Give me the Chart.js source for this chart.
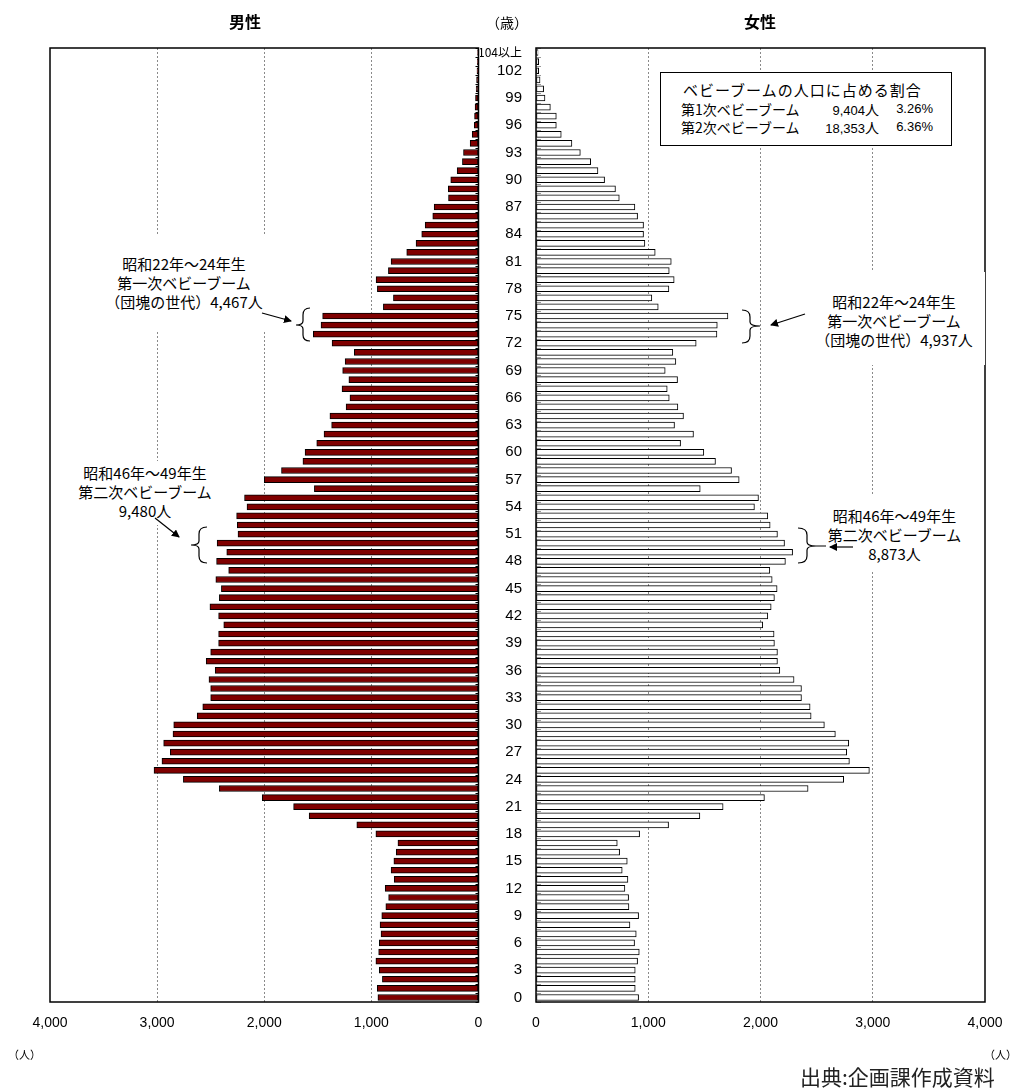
<!DOCTYPE html>
<html lang="ja">
<head>
<meta charset="utf-8">
<title>男女別・年齢別人口</title>
<script src="https://cdn.jsdelivr.net/npm/chart.js@4.4.1/dist/chart.umd.min.js"></script>
<style>
  html, body { margin: 0; padding: 0; background: #fff; }
  #wrap { position: relative; width: 1018px; height: 1091px; overflow: hidden;
          font-family: "Noto Sans CJK JP", "Noto Sans", sans-serif; color: #000; }
  canvas { position: absolute; top: 0; }
  #maleChart { left: 0; }
  #femaleChart { left: 480px; }
  .t { position: absolute; white-space: nowrap; }
  .title { font-size: 16px; font-weight: bold; top: 9px; transform: translateX(-50%); }
  .note { position: absolute; background: #fff; text-align: center; font-size: 15px;
          line-height: 19px; white-space: nowrap; box-sizing: border-box; }
  #legendBox { position: absolute; left: 660px; top: 72px; width: 292px; height: 74px;
               border: 1.5px solid #000; background: #fff; box-sizing: border-box; font-size: 14px; }
  #legendBox .t { line-height: 16px; }
  #legendBox .n { font-family: 'Liberation Sans', Arial, sans-serif; font-size: 13px; }
  svg { position: absolute; left: 0; top: 0; }
</style>
</head>
<body>
<div id="wrap">
  <canvas id="maleChart" width="490" height="1091"></canvas>
  <canvas id="femaleChart" width="538" height="1091"></canvas>

  <div class="t title" style="left:245px;">男性</div>
  <div class="t title" style="left:760px;">女性</div>
  <div class="t" style="left:486px; top:12px; font-size:14px;">（歳）</div>

  <div class="note" style="left:100px; top:236px; width:168px; height:94px; padding-top:18px;">
    昭和22年～24年生<br>第一次ベビーブーム<br>（団塊の世代）4,467人</div>
  <div class="note" style="left:70px; top:461px; width:150px; height:64px; padding-top:2px;">
    昭和46年～49年生<br>第二次ベビーブーム<br>9,480人</div>
  <div class="note" style="left:803px; top:272px; width:182px; height:93px; padding-top:20px;">
    昭和22年～24年生<br>第一次ベビーブーム<br>（団塊の世代）4,937人</div>
  <div class="note" style="left:822px; top:495px; width:145px; height:77px; padding-top:11px;">
    昭和46年～49年生<br>第二次ベビーブーム<br>8,873人</div>

  <div id="legendBox">
    <div class="t" style="left:22px; top:9px; font-size:15px; letter-spacing:1px;">ベビーブームの人口に占める割合</div>
    <div class="t" style="left:20px; top:28px;">第1次ベビーブーム</div>
    <div class="t n" style="right:72px; top:28px;">9,404<span style="font-family:'Noto Sans CJK JP';font-size:14px;">人</span></div>
    <div class="t n" style="right:18px; top:28px;">3.26%</div>
    <div class="t" style="left:20px; top:46px;">第2次ベビーブーム</div>
    <div class="t n" style="right:72px; top:46px;">18,353<span style="font-family:'Noto Sans CJK JP';font-size:14px;">人</span></div>
    <div class="t n" style="right:18px; top:46px;">6.36%</div>
  </div>

  <svg width="1018" height="1091" viewBox="0 0 1018 1091">
    <defs>
      <marker id="ah" markerWidth="8" markerHeight="8" refX="7" refY="4" orient="auto" markerUnits="userSpaceOnUse">
        <path d="M0,0 L8,4 L0,8 z" fill="#000"/>
      </marker>
    </defs>
    <g fill="none" stroke="#000" stroke-width="1.2">
      <!-- left brace, 1st boom -->
      <path d="M310,308 Q303,308 303,315 L303,321 Q303,325 296,325 Q303,325 303,329 L303,335 Q303,341 310,341"/>
      <line x1="262" y1="313" x2="291" y2="321" marker-end="url(#ah)"/>
      <!-- left brace, 2nd boom -->
      <path d="M207,527 Q199,527 199,534 L199,541 Q199,545 191,545 Q199,545 199,549 L199,556 Q199,563 207,563"/>
      <line x1="155" y1="518" x2="179" y2="537" marker-end="url(#ah)"/>
      <!-- right brace, 1st boom -->
      <path d="M742,310 Q750,310 750,317 L750,322 Q750,326 760,326 Q750,326 750,330 L750,336 Q750,343 742,343"/>
      <line x1="805" y1="314" x2="771" y2="325" marker-end="url(#ah)"/>
      <!-- right brace, 2nd boom -->
      <path d="M798,528 Q807,528 807,535 L807,542 Q807,546 816,546 L826,546 M816,546 Q807,546 807,550 L807,556 Q807,563 798,563"/>
      <line x1="853" y1="547" x2="830" y2="547" marker-end="url(#ah)"/>
    </g>
  </svg>

  <div class="t" style="left:8px; top:1046px; font-size:11px;">（人）</div>
  <div class="t" style="left:984px; top:1046px; font-size:11px;">（人）</div>
  <div class="t" style="left:800px; top:1061px; font-size:21px; color:#222;">出典:企画課作成資料</div>
</div>

<script>
// age categories 0..104 (104 = "104以上")
const AGES = Array.from({ length: 105 }, (_, i) => i);
const AGE_TICKS = [0, 3, 6, 9, 12, 15, 18, 21, 24, 27, 30, 33, 36, 39, 42, 45, 48, 51,
  54, 57, 60, 63, 66, 69, 72, 75, 78, 81, 84, 87, 90, 93, 96, 99, 102, 104];
const TOP_AGE_LABEL = "104以上";
const X_TICKS = [0, 1000, 2000, 3000, 4000];

// 男性 (index = age)
const MALE = [
  939, 945, 897, 926, 958, 932, 926, 910, 919, 903,       // 0-9
  865, 839, 871, 787, 816, 790, 768, 752, 958, 1136,      // 10-19
  1581, 1726, 2019, 2419, 2755, 3029, 2955, 2877, 2939, 2852, // 20-29
  2845, 2626, 2574, 2500, 2500, 2516, 2458, 2542, 2500, 2426, // 30-39
  2426, 2378, 2426, 2507, 2419, 2400, 2452, 2332, 2445, 2350, // 40-49
  2440, 2245, 2252, 2258, 2161, 2184, 1532, 2000, 1839, 1639, // 50-59
  1619, 1510, 1442, 1371, 1387, 1236, 1200, 1274, 1210, 1268, // 60-69
  1245, 1159, 1367, 1542, 1470, 1455, 888, 794, 944, 956,     // 70-79
  841, 816, 670, 583, 530, 498, 427, 414, 280, 282,           // 80-89
  259, 199, 150, 140, 78, 59, 40, 37, 32, 28,                 // 90-99
  22, 18, 14, 10, 8                                           // 100-104
];

// 女性 (index = age)
const FEMALE = [
  914, 884, 884, 884, 905, 920, 878, 893, 837, 914,       // 0-9
  828, 825, 792, 819, 768, 813, 745, 724, 923, 1181,      // 10-19
  1460, 1667, 2035, 2424, 2741, 2970, 2792, 2768, 2786, 2667, // 20-29
  2569, 2451, 2442, 2365, 2365, 2299, 2172, 2151, 2151, 2124, // 30-39
  2121, 2020, 2065, 2095, 2124, 2148, 2104, 2083, 2222, 2286, // 40-49
  2214, 2151, 2086, 2065, 1946, 1982, 1463, 1810, 1742, 1599, // 50-59
  1495, 1288, 1403, 1234, 1314, 1264, 1187, 1169, 1261, 1151, // 60-69
  1246, 1219, 1427, 1612, 1615, 1710, 1089, 1032, 1184, 1231, // 70-79
  1187, 1205, 1062, 970, 958, 958, 905, 881, 742, 708,        // 80-89
  611, 552, 487, 395, 320, 225, 181, 181, 128, 80,            // 90-99
  68, 36, 24, 24, 18                                          // 100-104
];

const NUM_FONT = "'Liberation Sans', Arial, 'Noto Sans CJK JP', sans-serif";

// black frame round the plot + little tick marks on the 0 axis
const framePlugin = {
  id: "frame",
  afterDatasetsDraw(chart, args, opts) {
    const { ctx, chartArea: a } = chart;
    const ys = chart.scales.y;
    ctx.save();
    ctx.strokeStyle = opts.tickColor;
    ctx.lineWidth = 1;
    const ax = opts.axisSide === "right" ? a.right : a.left;
    const dir = opts.axisSide === "right" ? -1 : 1;
    ctx.beginPath();
    for (let i = 0; i <= AGES.length; i++) {
      const py = Math.round(ys.getPixelForValue(i - 0.5)) + 0.5;
      ctx.moveTo(ax, py);
      ctx.lineTo(ax + dir * opts.tickLen, py);
    }
    ctx.stroke();
    ctx.strokeStyle = "#000";
    ctx.lineWidth = 1.5;
    ctx.strokeRect(a.left, a.top, a.right - a.left, a.bottom - a.top);
    ctx.restore();
  }
};

function makeOptions(isMale) {
  return {
    indexAxis: "y",
    responsive: false,
    animation: false,
    events: [],
    layout: {
      padding: isMale
        ? { left: 50, right: 11.5, top: 48, bottom: 0 }
        : { left: 0, right: 33, top: 48, bottom: 0 }
    },
    plugins: {
      legend: { display: false },
      tooltip: { enabled: false },
      frame: isMale
        ? { axisSide: "right", tickColor: "#000", tickLen: 3 }
        : { axisSide: "left", tickColor: "#999", tickLen: 5 }
    },
    scales: {
      x: {
        min: 0,
        max: 4000,
        reverse: isMale,
        afterBuildTicks: s => { s.ticks = X_TICKS.map(v => ({ value: v })); },
        afterFit: s => { s.height = 89; },
        grid: {
          drawTicks: false,
          lineWidth: 1,
          color: c => (c.tick && (c.tick.value === 0 || c.tick.value === 4000)) ? "rgba(0,0,0,0)" : "#8a8a8a"
        },
        border: { display: false, dash: [2, 2] },
        ticks: {
          padding: 13,
          color: "#000",
          maxRotation: 0,
          font: { family: NUM_FONT, size: 14 },
          callback: v => Number(v).toLocaleString("en-US")
        }
      },
      y: {
        type: "category",
        reverse: true,
        position: isMale ? "right" : "left",
        display: !isMale,
        afterFit: s => { s.width = isMale ? 0 : 56; },
        grid: { display: false, drawTicks: false },
        border: { display: false },
        ticks: {
          autoSkip: false,
          padding: 14,
          color: "#000",
          font: c => (c.index === 104
            ? { family: "'Noto Sans CJK JP', sans-serif", size: 12 }
            : { family: NUM_FONT, size: 15 }),
          callback: (v, i) => {
            if (i === 104) return TOP_AGE_LABEL;
            return AGE_TICKS.includes(AGES[i]) ? String(AGES[i]) : "";
          }
        }
      }
    }
  };
}

new Chart(document.getElementById("maleChart"), {
  type: "bar",
  data: {
    labels: AGES,
    datasets: [{
      label: "男性",
      data: MALE,
      backgroundColor: "#7f0000",
      borderColor: "#000",
      borderWidth: 1,
      borderSkipped: false,
      barThickness: 6
    }]
  },
  options: makeOptions(true),
  plugins: [framePlugin]
});

new Chart(document.getElementById("femaleChart"), {
  type: "bar",
  data: {
    labels: AGES,
    datasets: [{
      label: "女性",
      data: FEMALE,
      backgroundColor: "#fff",
      borderColor: "#000",
      borderWidth: 1,
      borderSkipped: false,
      barThickness: 6
    }]
  },
  options: makeOptions(false),
  plugins: [framePlugin]
});
</script>
</body>
</html>
